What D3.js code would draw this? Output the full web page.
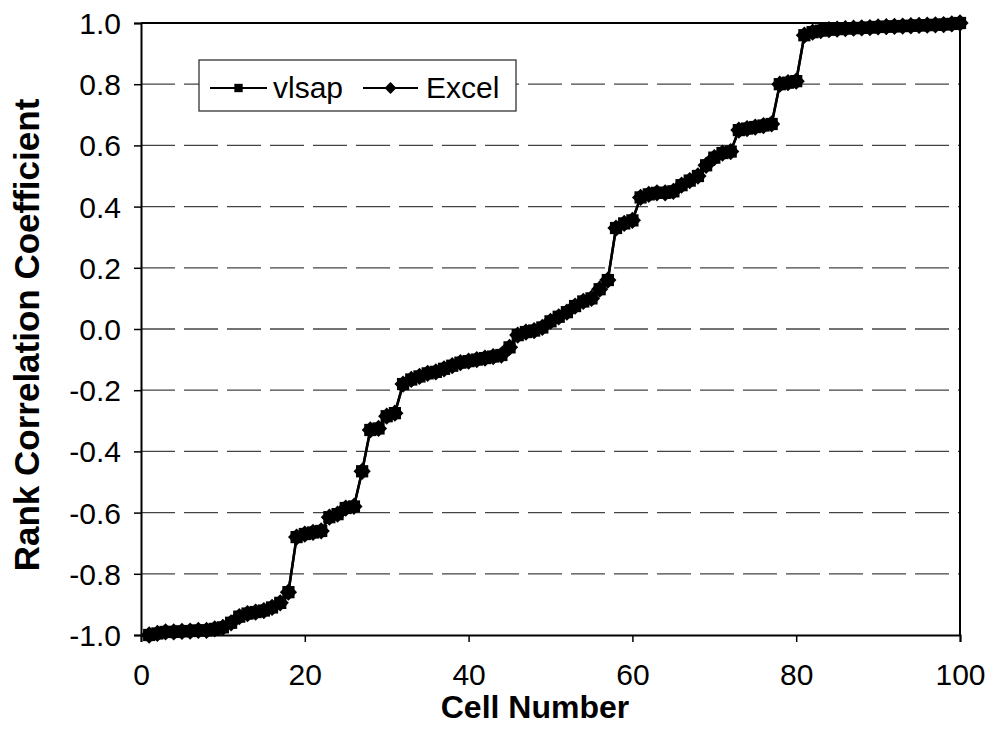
<!DOCTYPE html>
<html>
<head>
<meta charset="utf-8">
<script src="https://cdn.jsdelivr.net/npm/d3@7"></script>
<style>
  body { margin: 0; background: #fff; }
  svg { font-family: Arial, "Liberation Sans", sans-serif; }
</style>
</head>
<body>
<svg id="chart" width="990" height="743"></svg>
<script>
// cell numbers 1..100
const cells = d3.range(1, 101);

// rank correlation coefficient per cell
const vlsap = [
  -1.000, -0.995, -0.990, -0.990, -0.988, -0.987, -0.985, -0.985, -0.980, -0.975,
  -0.960, -0.940, -0.930, -0.925, -0.920, -0.910, -0.895, -0.860, -0.680, -0.670,
  -0.665, -0.660, -0.615, -0.605, -0.585, -0.580, -0.465, -0.330, -0.325, -0.285,
  -0.275, -0.180, -0.165, -0.155, -0.145, -0.140, -0.130, -0.120, -0.110, -0.105,
  -0.100, -0.095, -0.090, -0.085, -0.060, -0.020, -0.010, -0.005,  0.005,  0.025,
   0.040,  0.055,  0.075,  0.090,  0.100,  0.130,  0.160,  0.330,  0.345,  0.355,
   0.430,  0.440,  0.445,  0.445,  0.450,  0.470,  0.485,  0.500,  0.535,  0.560,
   0.575,  0.580,  0.650,  0.655,  0.660,  0.665,  0.670,  0.800,  0.805,  0.810,
   0.960,  0.970,  0.975,  0.978,  0.980,  0.982,  0.983,  0.984,  0.985,  0.987,
   0.988,  0.989,  0.990,  0.991,  0.992,  0.993,  0.994,  0.995,  0.997,  1.000
];
const excel = [
  -1.000, -0.995, -0.990, -0.990, -0.988, -0.987, -0.985, -0.985, -0.980, -0.975,
  -0.960, -0.940, -0.930, -0.925, -0.920, -0.910, -0.895, -0.860, -0.680, -0.670,
  -0.665, -0.660, -0.615, -0.605, -0.585, -0.580, -0.465, -0.330, -0.325, -0.285,
  -0.275, -0.180, -0.165, -0.155, -0.145, -0.140, -0.130, -0.120, -0.110, -0.105,
  -0.100, -0.095, -0.090, -0.085, -0.060, -0.020, -0.010, -0.005,  0.005,  0.025,
   0.040,  0.055,  0.075,  0.090,  0.100,  0.130,  0.160,  0.330,  0.345,  0.355,
   0.430,  0.440,  0.445,  0.445,  0.450,  0.470,  0.485,  0.500,  0.535,  0.560,
   0.575,  0.580,  0.650,  0.655,  0.660,  0.665,  0.670,  0.800,  0.805,  0.810,
   0.960,  0.970,  0.975,  0.978,  0.980,  0.982,  0.983,  0.984,  0.985,  0.987,
   0.988,  0.989,  0.990,  0.991,  0.992,  0.993,  0.994,  0.995,  0.997,  1.000
];

const xTicks = [0, 20, 40, 60, 80, 100];
const yTicks = [-1.0, -0.8, -0.6, -0.4, -0.2, 0.0, 0.2, 0.4, 0.6, 0.8, 1.0];
const seriesNames = ["vlsap", "Excel"];

const svg = d3.select("#chart");
const pLeft = 141, pRight = 960, pTop = 23, pBottom = 635;

const x = d3.scaleLinear().domain([0, 100]).range([pLeft, pRight]);
const y = d3.scaleLinear().domain([-1, 1]).range([pBottom, pTop]);

// gridlines (dashed)
svg.append("g")
  .selectAll("line")
  .data(yTicks.filter(t => t > -1 && t < 1))
  .enter().append("line")
  .attr("x1", pLeft).attr("x2", pRight)
  .attr("y1", d => y(d)).attr("y2", d => y(d))
  .attr("stroke", "#444").attr("stroke-width", 1.3)
  .attr("stroke-dasharray", "34,9");

// plot frame: top and right
svg.append("path")
  .attr("d", `M${pLeft},${pTop}H${pRight}V${pBottom}`)
  .attr("fill", "none").attr("stroke", "#000").attr("stroke-width", 2);

// axes
const xAxis = svg.append("g")
  .attr("transform", `translate(0,${pBottom})`)
  .call(d3.axisBottom(x).tickValues(xTicks).tickSize(7).tickPadding(22).tickFormat(d => String(d)));
const yAxis = svg.append("g")
  .attr("transform", `translate(${pLeft},0)`)
  .call(d3.axisLeft(y).tickValues(yTicks).tickSize(7).tickPadding(13).tickFormat(d => d.toFixed(1)));

[xAxis, yAxis].forEach(a => {
  a.select(".domain").attr("stroke", "#000").attr("stroke-width", 2);
  a.selectAll(".tick line").attr("stroke", "#000").attr("stroke-width", 1.5);
  a.selectAll("text").attr("fill", "#000").attr("font-size", 30)
    .attr("font-family", "Arial, 'Liberation Sans', sans-serif");
});
xAxis.selectAll("text").attr("dy", "0.71em");
yAxis.selectAll("text").attr("dy", "0.35em");

// axis titles
svg.append("text")
  .attr("x", 535).attr("y", 718)
  .attr("text-anchor", "middle").attr("font-weight", "bold").attr("font-size", 32)
  .text("Cell Number");
svg.append("text")
  .attr("transform", `translate(39,${(pTop + pBottom) / 2 + 6}) rotate(-90)`)
  .attr("text-anchor", "middle").attr("font-weight", "bold").attr("font-size", 35)
  .text("Rank Correlation Coefficient");

// series
const line = d3.line().x((d, i) => x(cells[i])).y(d => y(d));
const plot = svg.append("g");

plot.append("path").datum(excel)
  .attr("d", line).attr("fill", "none").attr("stroke", "#000").attr("stroke-width", 2.5);
plot.append("path").datum(vlsap)
  .attr("d", line).attr("fill", "none").attr("stroke", "#000").attr("stroke-width", 2.5);

const diamond = d3.symbol().type(d3.symbolDiamond2).size(190);
const square = d3.symbol().type(d3.symbolSquare).size(150);

plot.append("g").selectAll("path")
  .data(excel).enter().append("path")
  .attr("d", diamond)
  .attr("transform", (d, i) => `translate(${x(cells[i])},${y(d)})`)
  .attr("fill", "#000");
plot.append("g").selectAll("path")
  .data(vlsap).enter().append("path")
  .attr("d", square)
  .attr("transform", (d, i) => `translate(${x(cells[i])},${y(d)})`)
  .attr("fill", "#000");

// legend
const legendSquare = d3.symbol().type(d3.symbolSquare).size(70);
const legendDiamond = d3.symbol().type(d3.symbolDiamond2).size(90);
const lg = svg.append("g");
lg.append("rect")
  .attr("x", 199).attr("y", 60).attr("width", 317).attr("height", 51)
  .attr("fill", "#fff").attr("stroke", "#333").attr("stroke-width", 1.3);
const legendItems = [
  { name: seriesNames[0], x0: 210, x1: 267, tx: 273, sym: legendSquare },
  { name: seriesNames[1], x0: 363, x1: 418, tx: 426, sym: legendDiamond }
];
legendItems.forEach(it => {
  lg.append("line")
    .attr("x1", it.x0).attr("x2", it.x1).attr("y1", 88).attr("y2", 88)
    .attr("stroke", "#000").attr("stroke-width", 2);
  lg.append("path").attr("d", it.sym)
    .attr("transform", `translate(${(it.x0 + it.x1) / 2},88)`).attr("fill", "#000");
  lg.append("text")
    .attr("x", it.tx).attr("y", 87).attr("dy", "0.35em")
    .attr("font-size", 30).text(it.name);
});
</script>
</body>
</html>
